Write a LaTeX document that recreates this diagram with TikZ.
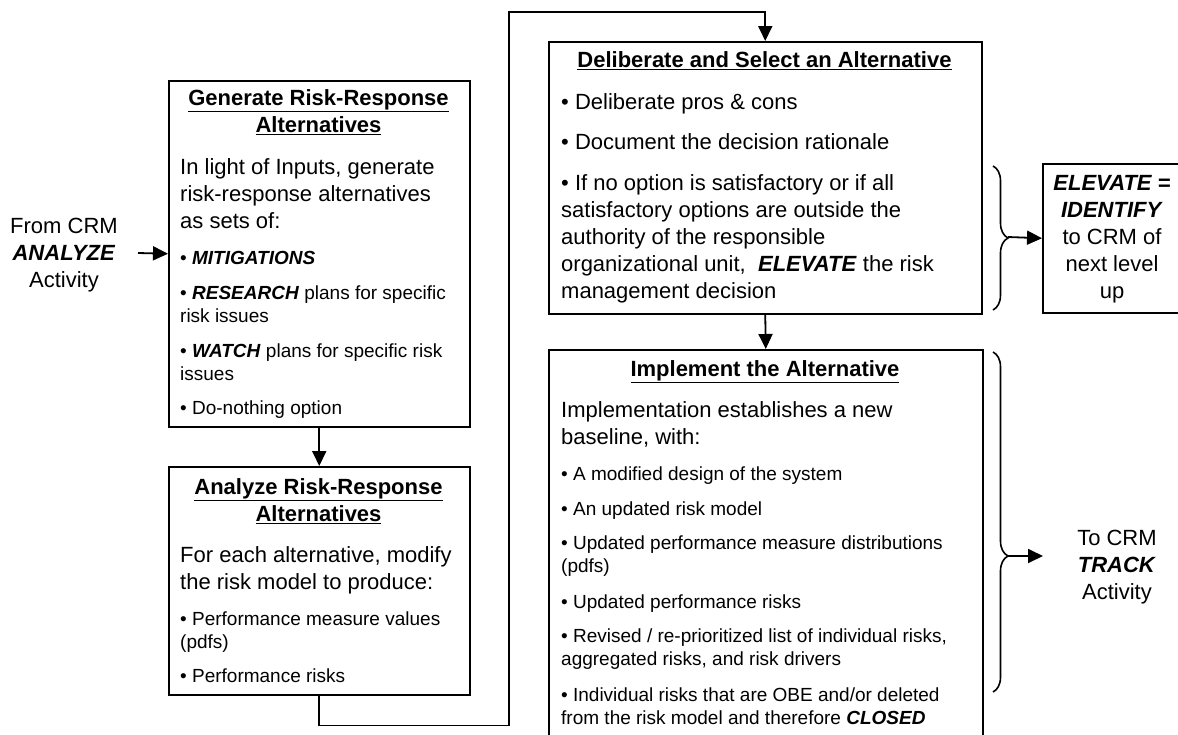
\documentclass[tikz,border=0pt]{standalone}
\usepackage{fontspec}
\setmainfont{Liberation Sans}
\usetikzlibrary{arrows.meta,decorations.pathreplacing}
\newcommand{\bi}[1]{\textbf{\textit{#1}}}
\begin{document}
\begin{tikzpicture}[x=1pt,y=-1pt,
  box/.style={draw,line width=1.5pt,inner sep=0,anchor=north west},
  big/.style={font=\fontsize{22}{27}\selectfont,inner sep=0,align=left,anchor=north west},
  small/.style={font=\fontsize{19}{23}\selectfont,inner sep=0,align=left,anchor=north west},
  ttl/.style={font=\fontsize{22}{27}\selectfont\bfseries,inner sep=0,align=center,anchor=north},
  ctext/.style={font=\fontsize{22}{27}\selectfont,inner sep=0,align=center,anchor=north},
  conn/.style={line width=1.8pt,-{Triangle[length=15pt,width=14pt]}},
  brc/.style={line width=1.6pt,decorate},
]
\useasboundingbox (0,0) rectangle (1178,734);
\clip (0,0) rectangle (1178,734);
\fill[white] (0,0) rectangle (1178,734);

% boxes
\node[box,minimum width=301pt,minimum height=346pt] (b1) at (168,80) {};
\node[box,minimum width=301pt,minimum height=228pt] (b2) at (168,466) {};
\node[box,minimum width=433pt,minimum height=272pt] (b3) at (548,41) {};
\node[box,minimum width=434pt,minimum height=400pt] (b4) at (548,349) {};
\node[box,minimum width=140pt,minimum height=149pt] (b5) at (1042,163) {};

% box 1 text
\node[ttl] (t1) at (318.5,86.6) {\strut\underline{Generate Risk-Response}\\\underline{Alternatives}};
\node[big] (p11) at (180,155.1) {\strut In light of Inputs, generate\\risk-response alternatives\\as sets of:};
\node[small] (p12) at (180,247.9) {\strut• \bi{MITIGATIONS}};
\node[small] (p13) at (180,282.9) {\strut• \bi{RESEARCH} plans for specific\\risk issues};
\node[small] (p14) at (180,340.9) {\strut• \bi{WATCH} plans for specific risk\\issues};
\node[small] (p15) at (180,397.9) {\strut• Do-nothing option};

% box 2 text
\node[ttl] (t2) at (318.5,475.1) {\strut\underline{Analyze Risk-Response}\\\underline{Alternatives}};
\node[big] (p21) at (180,543.1) {\strut For each alternative, modify\\the risk model to produce:};
\node[small] (p22) at (180,608.9) {\strut• Performance measure values\\(pdfs)};
\node[small] (p23) at (180,665.9) {\strut• Performance risks};

% box 3 text
\node[ttl] (t3) at (764.5,48.1) {\strut\underline{Deliberate and Select an Alternative}};
\node[big] (p31) at (561,90.1) {\strut• Deliberate pros \& cons};
\node[big] (p32) at (561,130.1) {\strut• Document the decision rationale};
\node[big] (p33) at (561,171.1) {\strut• If no option is satisfactory or if all\\satisfactory options are outside the\\authority of the responsible\\organizational unit,~ \bi{ELEVATE} the risk\\management decision};

% box 4 text
\node[ttl] (t4) at (765,357.1) {\strut\underline{Implement the Alternative}};
\node[big] (p41) at (561,398.1) {\strut Implementation establishes a new\\baseline, with:};
\node[small] (p42) at (561,463.9) {\strut• A modified design of the system};
\node[small] (p43) at (561,498.9) {\strut• An updated risk model};
\node[small] (p44) at (561,532.9) {\strut• Updated performance measure distributions\\(pdfs)};
\node[small] (p45) at (561,591.9) {\strut• Updated performance risks};
\node[small] (p46) at (561,625.9) {\strut• Revised / re-prioritized list of individual risks,\\aggregated risks, and risk drivers};
\node[small] (p47) at (561,684.9) {\strut• Individual risks that are OBE and/or deleted\\from the risk model and therefore \bi{CLOSED}};

% box 5 text
\node[ctext] (t5) at (1112,171.1) {\strut\bi{ELEVATE =}\\\bi{IDENTIFY}\\to CRM of\\next level\\up};

% side texts
\node[ctext] (from) at (64,214.1) {\strut From CRM\\\bi{ANALYZE}\\Activity};
\node[ctext] (to) at (1117,526.1) {\strut To CRM\\\bi{TRACK}\\Activity};

% connectors
\coordinate (in) at (138,253);
\draw[conn] (in) -- (b1.west);
\draw[conn] (b1.south) -- (b2.north);
\draw[conn] (b2.south) -- ++(0,30) -| (509,12) -| (b3.north);
\draw[conn] (b3.south) -- (b4.north);

% braces
\draw[brc,decoration={brace,amplitude=15pt,aspect=0.5}] (993,166) -- (993,310);
\coordinate (br1) at (1008,237);
\draw[conn] (br1) -- (b5.west);
\draw[brc,decoration={brace,amplitude=15pt,aspect=0.6}] (993,352) -- (993,692);
\coordinate (br2) at (1008,556);
\coordinate (out) at (1043,556);
\draw[conn] (br2) -- (out);
\end{tikzpicture}
\end{document}
